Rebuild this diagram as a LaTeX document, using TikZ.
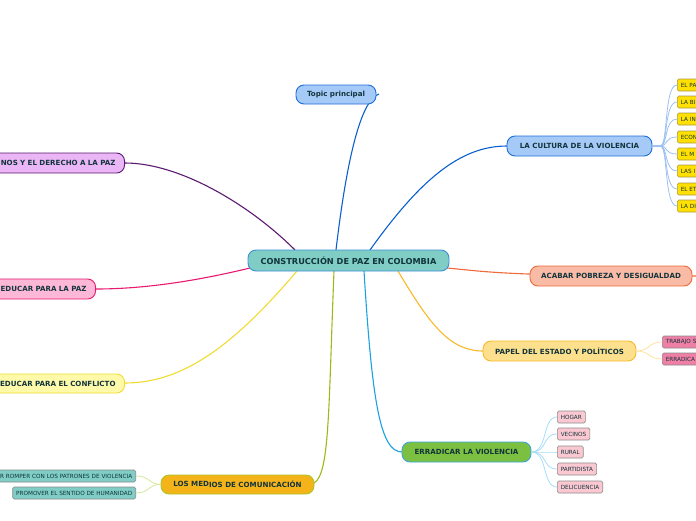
\documentclass[tikz,border=0pt]{standalone}
\usepackage{fontspec}
\setmainfont{DejaVu Sans}
\definecolor{txt}{HTML}{12343B}
\definecolor{cfill}{HTML}{7FCDC4}
\definecolor{cdraw}{HTML}{3D8FD6}
\definecolor{bfill}{HTML}{A6CAF8}
\definecolor{bdraw}{HTML}{1C6FD6}
\definecolor{bline}{HTML}{0A5FD0}
\definecolor{bsub}{HTML}{9DC0F2}
\definecolor{yfill}{HTML}{FFE000}
\definecolor{ydraw}{HTML}{A89A40}
\definecolor{ofill}{HTML}{F9BBA5}
\definecolor{odraw}{HTML}{F06A3A}
\definecolor{pfill}{HTML}{FDE08E}
\definecolor{pdraw}{HTML}{F7B928}
\definecolor{psub}{HTML}{FDE3A0}
\definecolor{kfill}{HTML}{F07FA6}
\definecolor{gfill}{HTML}{7CC042}
\definecolor{gdraw}{HTML}{35A8E0}
\definecolor{gline}{HTML}{1BA1E2}
\definecolor{gsub}{HTML}{A6DDF7}
\definecolor{lpfill}{HTML}{FBC8D2}
\definecolor{mfill}{HTML}{F5B31A}
\definecolor{mdraw}{HTML}{A7C927}
\definecolor{mline}{HTML}{9ABA1A}
\definecolor{msub}{HTML}{D3E99A}
\definecolor{cyfill}{HTML}{FFFAAA}
\definecolor{cydraw}{HTML}{F0DC30}
\definecolor{pzfill}{HTML}{FDB8D8}
\definecolor{pzdraw}{HTML}{E8196E}
\definecolor{vfill}{HTML}{EAB6F6}
\definecolor{vdraw}{HTML}{5A1A72}
\definecolor{subdraw}{HTML}{8A8A8A}
\tikzset{
  mainbox/.style={draw, line width=0.9pt, rounded corners=8pt, minimum height=20pt,
     font=\fontsize{7.1}{7.5}\selectfont\bfseries, text=txt, inner xsep=0pt},
  subbox/.style={draw=subdraw, line width=0.6pt, rounded corners=1.5pt, minimum height=12pt,
     font=\fontsize{5.7}{6}\selectfont, text=txt, inner xsep=3.5pt, inner ysep=0pt},
  conn/.style={line width=1.1pt},
  subconn/.style={line width=0.8pt},
}
\begin{document}
\begin{tikzpicture}[x=1pt,y=-1pt]
\useasboundingbox (0,0) rectangle (696,520);
% coordinates for connector ends
\coordinate (tpEnd) at (379,94);
\coordinate (acEnd) at (696,276);
% connectors from centre (drawn first, nodes above)
\draw[conn, bline] (336,250) .. controls (346,165) and (360,100) .. (tpEnd);
\draw[conn, bline] (370,250) .. controls (420,180) and (460,146) .. (507,146);
\draw[conn, vdraw] (295,250) .. controls (250,205) and (180,163) .. (125,163);
\draw[conn, odraw] (447,268) .. controls (490,272) and (505,276) .. (acEnd);
\draw[conn, pdraw] (398,271) .. controls (430,325) and (450,351) .. (483,351);
\draw[conn, gline] (364,271) .. controls (372,400) and (380,452) .. (402,452);
\draw[conn, mline] (334,271) .. controls (328,420) and (330,484) .. (310,484);
\draw[conn, cydraw] (297,271) .. controls (230,350) and (180,383) .. (125,383);
\draw[conn, pzdraw] (250,268) .. controls (180,285) and (130,289) .. (96,289);

% central
\node[mainbox, fill=cfill, draw=cdraw, minimum width=201pt, minimum height=21pt,
      font=\fontsize{8.2}{8.5}\selectfont\bfseries] (c) at (348.5,260.5) {CONSTRUCCIÓN DE PAZ EN COLOMBIA};
\node[mainbox, fill=bfill, draw=bdraw, minimum width=80pt, minimum height=19pt] (tp) at (336,94.5) {Topic principal};
\node[mainbox, fill=bfill, draw=bdraw, minimum width=145pt] (cul) at (579.5,146) {LA CULTURA DE LA VIOLENCIA};
\node[mainbox, fill=ofill, draw=odraw, minimum width=162pt] (ac) at (611,276) {ACABAR POBREZA Y DESIGUALDAD};
\node[mainbox, fill=pfill, draw=pdraw, minimum width=153pt] (pa) at (559.5,351) {PAPEL DEL ESTADO Y POLÍTICOS};
\node[mainbox, fill=gfill, draw=gdraw, minimum width=129pt] (er) at (466.5,452) {ERRADICAR LA VIOLENCIA};
\node[mainbox, fill=mfill, draw=mdraw, minimum width=153pt, minimum height=19pt] (me) at (237.5,484.5) {\raisebox{1pt}{LOS MED}IOS DE COMUNICACIÓN};
\node[mainbox, fill=cyfill, draw=cydraw, anchor=east, text width=150pt, align=right, inner xsep=9pt, minimum height=19pt] (cy) at (125,383.5) {EDUCAR PARA EL CONFLICTO};
\node[mainbox, fill=pzfill, draw=pzdraw, anchor=east, text width=120pt, align=right, inner xsep=9pt] (pz) at (96,289) {EDUCAR PARA LA PAZ};
\node[mainbox, fill=vfill, draw=vdraw, anchor=east, text width=150pt, align=right, inner xsep=9pt] (dh) at (125,163) {NOS Y EL DERECHO A LA PAZ};

% sub-nodes of LA CULTURA
\foreach \n/\y/\t in {1/85/EL PA, 2/102/LA BI, 3/119/LA IN, 4/137/ECON, 5/154/EL M, 6/171/LAS I, 7/189/EL ET, 8/206/LA DI}{
  \draw[subconn, bsub] (cul.east) -- ++(8,0) .. controls (668,146) and (664,\y) .. (677,\y);
  \node[subbox, fill=yfill, draw=ydraw, anchor=west, text width=40pt] (cu\n) at (677,\y) {\t};
}
% sub-nodes of PAPEL
\draw[subconn, psub] (pa.east) .. controls (650,351) and (648,342) .. (662,342);
\draw[subconn, psub] (pa.east) .. controls (650,351) and (648,359) .. (662,359);
\node[subbox, fill=kfill, anchor=west, text width=40pt] (pa1) at (662,342) {TRABAJO S};
\node[subbox, fill=kfill, anchor=west, text width=40pt] (pa2) at (662,359) {ERRADICA};
% sub-nodes of ERRADICAR
\foreach \n/\y/\t in {1/417/HOGAR, 2/434/VECINOS, 3/452/RURAL, 4/469/PARTIDISTA, 5/487/DELICUENCIA}{
  \draw[subconn, gsub] (er.east) .. controls (548,452) and (542,\y) .. (557,\y);
  \node[subbox, fill=lpfill, anchor=west] (er\n) at (557,\y) {\t};
}
% sub-nodes of LOS MEDIOS
\node[subbox, fill=cfill, anchor=east, text width=150pt, align=right] (me1) at (136,476) {AR ROMPER CON LOS PATRONES DE VIOLENCIA};
\node[subbox, fill=cfill, anchor=east] (me2) at (136,493) {PROMOVER EL SENTIDO DE HUMANIDAD};
\draw[subconn, msub] (me.west) .. controls (148,484) and (150,476) .. (me1.east);
\draw[subconn, msub] (me.west) .. controls (148,484) and (150,493) .. (me2.east);
\end{tikzpicture}
\end{document}
